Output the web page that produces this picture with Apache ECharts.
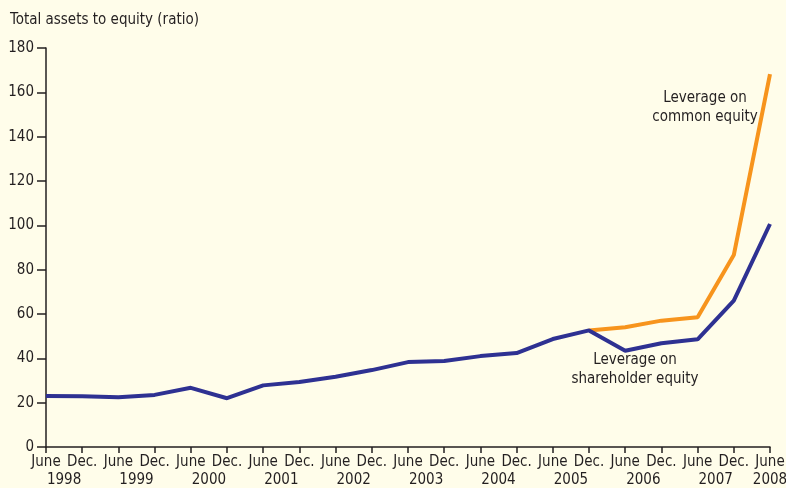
<!DOCTYPE html>
<html>
<head>
<meta charset="utf-8">
<script src="https://cdn.jsdelivr.net/npm/echarts@6/dist/echarts.min.js"></script>
<style>
    html, body { margin: 0; padding: 0; background: #fffdea; }
    #chartArea { width: 786px; height: 488px; }
</style>
</head>
<body>
<div id="chartArea"></div>
<script>
// half-year points, June 1998 .. June 2008
var months = ['June', 'Dec.', 'June', 'Dec.', 'June', 'Dec.', 'June', 'Dec.', 'June', 'Dec.', 'June',
    'Dec.', 'June', 'Dec.', 'June', 'Dec.', 'June', 'Dec.', 'June', 'Dec.', 'June'];
var years = ['1998', '1999', '2000', '2001', '2002', '2003', '2004', '2005', '2006', '2007', '2008'];
// leverage on shareholder equity
var shareholderEquity = [23.0, 22.9, 22.4, 23.5, 26.7, 22.0, 27.8, 29.3, 31.7, 34.7, 38.3,
    38.8, 41.0, 42.4, 48.7, 52.6, 43.4, 46.8, 48.6, 66.0, 100.6];
// leverage on common equity (only drawn from Dec. 2005)
var commonEquity = [null, null, null, null, null, null, null, null, null, null, null,
    null, null, null, null, 52.6, 54.0, 57.0, 58.5, 86.6, 168.2];
var yTicks = [0, 20, 40, 60, 80, 100, 120, 140, 160, 180];

var fontName = "'Liberation Sans Narrow', 'DejaVu Sans Condensed', sans-serif";
var textColor = '#231f20';

// year labels sit half-way between June and Dec. of each year
var yearLabels = [];
for (var i = 0; i <= (months.length - 1) * 2; i++) {
    yearLabels.push('');
}
for (var k = 0; k < years.length - 1; k++) {
    yearLabels[k * 4 + 1] = years[k];
}
yearLabels[(months.length - 1) * 2] = years[years.length - 1];

var dom = document.getElementById('chartArea');
var myChart = echarts.init(dom);

var option = {
    backgroundColor: '#fffdea',
    animation: false,
    textStyle: {fontFamily: fontName},
    title: {
        text: 'Total assets to equity (ratio)',
        left: 5,
        top: 8,
        textStyle: {fontFamily: fontName, fontSize: 15, fontWeight: 'normal', color: textColor}
    },
    grid: {
        left: 46,
        right: 16,
        top: 48,
        bottom: 41,
        outerBoundsMode: 'none'
    },
    xAxis: [
        {
            type: 'category',
            data: months,
            boundaryGap: false,
            axisLine: {lineStyle: {color: textColor, width: 1.5}},
            axisTick: {length: 6, interval: 0, lineStyle: {color: textColor, width: 1.5}},
            axisLabel: {
                interval: 0,
                margin: 8,
                fontFamily: fontName,
                fontSize: 15,
                color: textColor
            },
            splitLine: {show: false}
        },
        {
            type: 'category',
            data: yearLabels,
            position: 'bottom',
            offset: 18,
            boundaryGap: false,
            axisLine: {show: false},
            axisTick: {show: false},
            axisLabel: {
                interval: 0,
                margin: 8,
                fontFamily: fontName,
                fontSize: 15,
                color: textColor
            },
            splitLine: {show: false}
        }
    ],
    yAxis: {
        type: 'value',
        min: yTicks[0],
        max: yTicks[yTicks.length - 1],
        interval: yTicks[1] - yTicks[0],
        axisLine: {show: true, lineStyle: {color: textColor, width: 1.5}},
        axisTick: {show: true, length: 9, lineStyle: {color: textColor, width: 1.5}},
        axisLabel: {
            margin: 12,
            fontFamily: fontName,
            fontSize: 15,
            color: textColor
        },
        splitLine: {show: false}
    },
    series: [
        {
            name: 'Leverage on common equity',
            type: 'line',
            data: commonEquity,
            showSymbol: false,
            lineStyle: {color: '#f7941d', width: 4},
            itemStyle: {color: '#f7941d'}
        },
        {
            name: 'Leverage on shareholder equity',
            type: 'line',
            data: shareholderEquity,
            showSymbol: false,
            lineStyle: {color: '#2e3192', width: 4},
            itemStyle: {color: '#2e3192'}
        }
    ],
    graphic: [
        {
            type: 'text',
            x: 705,
            y: 108,
            style: {
                text: 'Leverage on\ncommon equity',
                textAlign: 'center',
                textVerticalAlign: 'middle',
                fill: textColor,
                font: '15px ' + fontName,
                lineHeight: 19
            }
        },
        {
            type: 'text',
            x: 635,
            y: 370,
            style: {
                text: 'Leverage on\nshareholder equity',
                textAlign: 'center',
                textVerticalAlign: 'middle',
                fill: textColor,
                font: '15px ' + fontName,
                lineHeight: 19
            }
        }
    ]
};

myChart.setOption(option);
</script>
</body>
</html>
